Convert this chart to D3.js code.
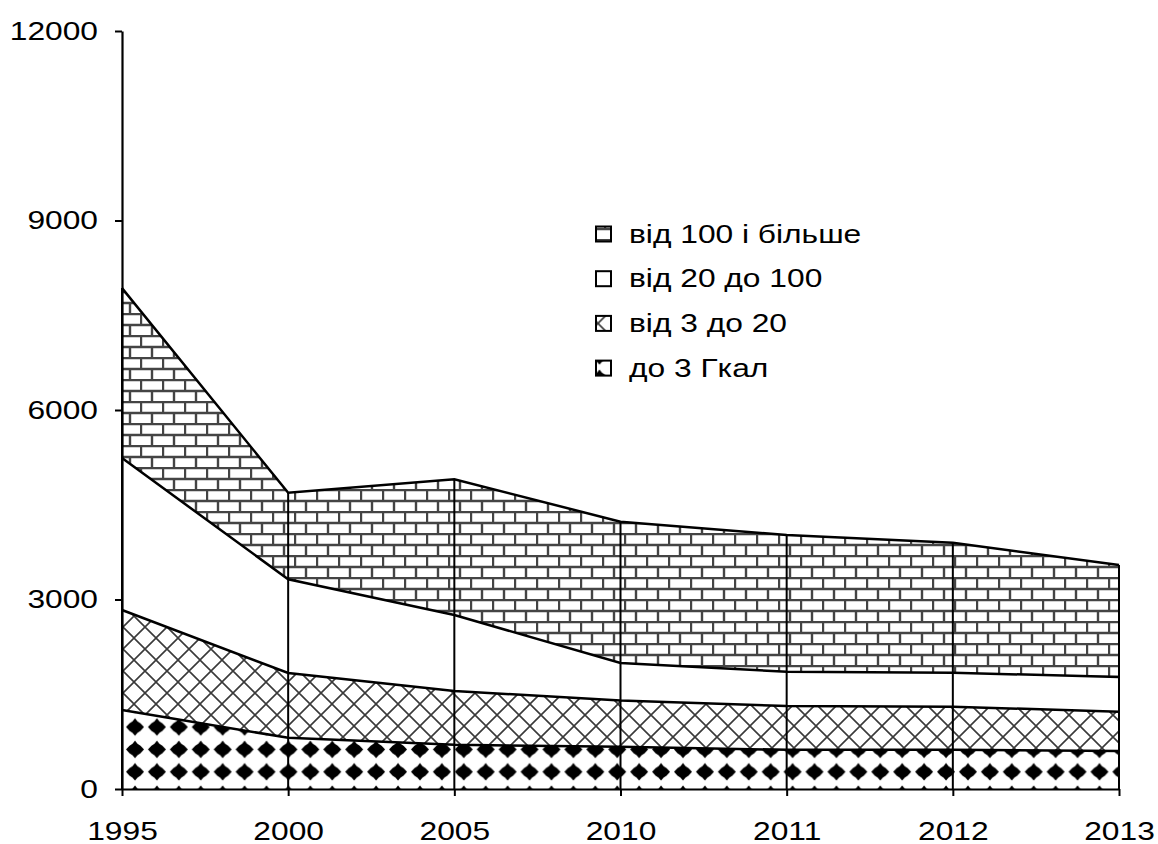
<!DOCTYPE html>
<html>
<head>
<meta charset="utf-8">
<script src="https://cdn.jsdelivr.net/npm/d3@7"></script>
<style>
  body { margin: 0; background: #fff; }
  text { font-family: Arial, "Liberation Sans", sans-serif; }
</style>
</head>
<body>
<svg id="chart" width="1158" height="844"></svg>
<script>
// values
let years = ["1995", "2000", "2005", "2010", "2011", "2012", "2013"];
let upTo3 = [1250, 810, 700, 670, 620, 620, 600];
let from3to20 = [1584, 1026, 851, 730, 694, 683, 624];
let from20to100 = [2406, 1484, 1204, 594, 543, 538, 549];
let from100 = [2690, 1370, 2147, 2238, 2164, 2059, 1773];
let yTicks = [0, 3000, 6000, 9000, 12000];
let seriesNames = ["до 3 Гкал", "від 3 до 20", "від 20 до 100", "від 100 і більше"];

// the original text is drawn wide, so stretch it horizontally
let fontSize = 25;
let stretch = 1.27;

let svg = d3.select("#chart");
let x = d3.scalePoint().domain(years).range([122, 1119]);
let y = d3.scaleLinear().domain([0, 12000]).range([789, 31]);

let rows = years.map(function (yr, i) {
    return {
        year: yr,
        s0: upTo3[i],
        s1: from3to20[i],
        s2: from20to100[i],
        s3: from100[i]
    };
});
let keys = ["s0", "s1", "s2", "s3"];
let stacked = d3.stack().keys(keys)(rows);

// patterns
let defs = svg.append("defs");

let diam = defs.append("pattern")
    .attr("id", "pDiamond")
    .attr("patternUnits", "userSpaceOnUse")
    .attr("x", 14.4).attr("y", 21.4)
    .attr("width", 21.92).attr("height", 22.4);
diam.append("path")
    .attr("d", "M11,2.5 L13.5,5.5 L16.5,7.5 L20,11.2 L16.5,15 L13.5,17 L11,20 L8.5,17 L5.5,15 L2,11.2 L5.5,7.5 L8.5,5.5 Z")
    .attr("fill", "#000");

let cross = defs.append("pattern")
    .attr("id", "pCross")
    .attr("patternUnits", "userSpaceOnUse")
    .attr("x", 2).attr("y", 0)
    .attr("width", 22).attr("height", 22);
cross.append("path")
    .attr("d", "M0,0 L22,22 M22,0 L0,22 M-2,-2 L0,0 M22,22 L24,24")
    .attr("stroke", "#3a3a3a")
    .attr("stroke-width", 1.6)
    .attr("fill", "none");

let brick = defs.append("pattern")
    .attr("id", "pBrick")
    .attr("patternUnits", "userSpaceOnUse")
    .attr("x", 8).attr("y", 5)
    .attr("width", 22).attr("height", 22);
brick.append("rect").attr("width", 22).attr("height", 22).attr("fill", "#fff");
brick.append("path")
    .attr("d", "M0,1 H22 M0,12 H22 M1,1 V12 M12,12 V23")
    .attr("stroke", "#444")
    .attr("stroke-width", 2.4)
    .attr("fill", "none");

let fills = ["url(#pDiamond)", "url(#pCross)", "#fff", "url(#pBrick)"];

// areas
let area = d3.area()
    .x(function (d) { return x(d.data.year); })
    .y0(function (d) { return y(d[0]); })
    .y1(function (d) { return y(d[1]); });

svg.append("g")
    .selectAll("path")
    .data(stacked)
    .enter()
    .append("path")
    .attr("d", area)
    .attr("fill", function (d, i) { return fills[i]; });

// boundary lines on top of each layer
let topLine = d3.line()
    .x(function (d) { return x(d.data.year); })
    .y(function (d) { return y(d[1]); });

svg.append("g")
    .selectAll("path")
    .data(stacked)
    .enter()
    .append("path")
    .attr("d", topLine)
    .attr("fill", "none")
    .attr("stroke", "#000")
    .attr("stroke-width", 2.5);

// drop lines at each year
let topLayer = stacked[stacked.length - 1];
svg.append("g")
    .selectAll("line")
    .data(topLayer)
    .enter()
    .append("line")
    .attr("x1", function (d) { return x(d.data.year); })
    .attr("x2", function (d) { return x(d.data.year); })
    .attr("y1", function (d) { return y(d[1]); })
    .attr("y2", y(0))
    .attr("stroke", "#000")
    .attr("stroke-width", 2);

// axes
let yAxis = svg.append("g")
    .attr("transform", "translate(122,0)")
    .call(d3.axisLeft(y).tickValues(yTicks).tickFormat(d3.format("d"))
        .tickSize(7).tickSizeOuter(0));
yAxis.select(".domain").attr("stroke-width", 2.2);
yAxis.selectAll(".tick line").attr("stroke-width", 2);
yAxis.selectAll("text")
    .attr("x", -24 / stretch)
    .attr("transform", "scale(" + stretch + ",1)")
    .attr("font-size", fontSize)
    .attr("font-family", "Arial, 'Liberation Sans', sans-serif")
    .attr("fill", "#000");

let xAxis = svg.append("g")
    .attr("transform", "translate(0,789)")
    .call(d3.axisBottom(x).tickSize(7).tickSizeOuter(0));
xAxis.select(".domain").attr("stroke-width", 2.2);
xAxis.selectAll(".tick line").attr("stroke-width", 2);
xAxis.selectAll("text")
    .attr("y", 51)
    .attr("dy", 0)
    .attr("transform", "scale(" + stretch + ",1)")
    .attr("font-size", fontSize)
    .attr("font-family", "Arial, 'Liberation Sans', sans-serif")
    .attr("fill", "#000");

// legend, top series first
let legendItems = [3, 2, 1, 0];
let legend = svg.append("g")
    .selectAll("g")
    .data(legendItems)
    .enter()
    .append("g")
    .attr("transform", function (d, i) { return "translate(596," + (234 + i * 44.7) + ")"; });

legend.append("rect")
    .attr("x", 0).attr("y", -7.5)
    .attr("width", 15).attr("height", 15)
    .attr("fill", function (d) { return fills[d]; })
    .attr("stroke", "#000")
    .attr("stroke-width", 2);

legend.append("text")
    .attr("x", 33 / stretch)
    .attr("y", 0)
    .attr("dy", "0.35em")
    .attr("transform", "scale(" + stretch + ",1)")
    .attr("font-size", fontSize)
    .attr("fill", "#000")
    .text(function (d) { return seriesNames[d]; });
</script>
</body>
</html>
